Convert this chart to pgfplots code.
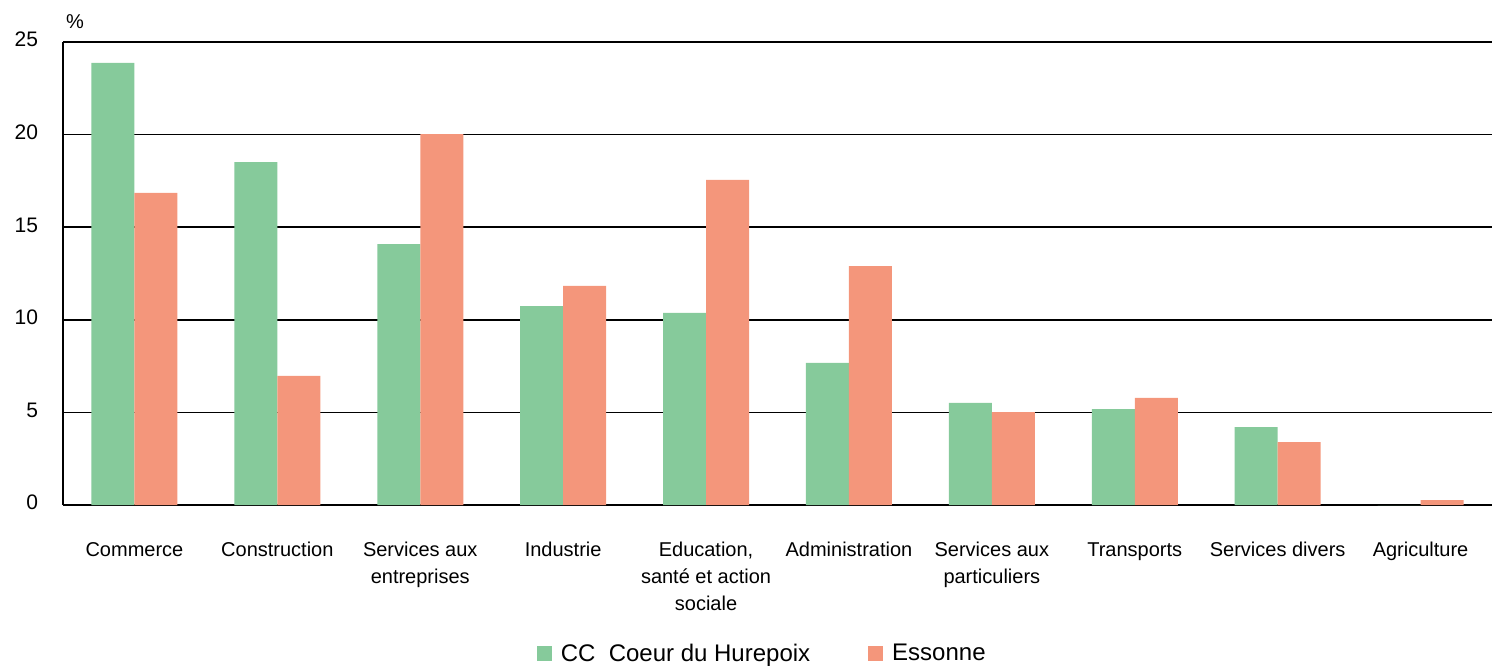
\documentclass[border=0pt]{standalone}
\usepackage{fontspec}
\setmainfont{Liberation Sans}
\usepackage{pgfplots}
\pgfplotsset{compat=1.18}
\definecolor{cgreen}{HTML}{86CA9B}
\definecolor{corange}{HTML}{F4967B}
\begin{document}
\begin{tikzpicture}
\path[use as bounding box] (-31.5pt,-80.5pt) rectangle (714.5pt,252.5pt);
\begin{axis}[
  at={(0pt,0pt)}, anchor=south west,
  scale only axis, width=714.5pt, height=231.5pt,
  ymin=0, ymax=25, ytick={0,5,10,15,20,25},
  xmin=-0.5, xmax=9.5,
  xtick={0,...,9},
  xticklabels={Commerce,Construction,Services aux\\entreprises,Industrie,{Education,\\santé et action\\sociale},Administration,Services aux\\particuliers,Transports,Services divers,Agriculture},
  xticklabel style={align=center, font=\fontsize{10}{13.5}\selectfont, anchor=north, yshift=-13pt},
  typeset ticklabels with strut,
  yticklabel style={font=\fontsize{10.5}{12}\selectfont, xshift=-9pt},
  /pgf/number format/assume math mode=true,
  major tick length=0pt,
  axis x line*=bottom, axis y line*=left,
  axis line style={black, line width=0.9pt, -},
  ymajorgrids, major grid style={black, line width=0.8pt},
  ybar=0pt, bar width=21.5pt,
  clip=false,
  legend style={at={(axis description cs:0.49,-0.322)}, anchor=center, draw=none, fill=none,
    legend columns=2, font=\fontsize{12}{14}\selectfont,
    /tikz/every odd column/.append style={column sep=2.5pt},
    /tikz/every even column/.append style={column sep=27pt}},
  legend image code/.code={\fill[#1] (0pt,-3.6pt) rectangle (7.5pt,3.9pt);},
]
\addplot[fill=cgreen, draw=none] coordinates {(0,23.87) (1,18.52) (2,14.09) (3,10.74) (4,10.37) (5,7.67) (6,5.51) (7,5.18) (8,4.21) (9,0)};
\addplot[fill=corange, draw=none] coordinates {(0,16.85) (1,6.97) (2,20.03) (3,11.83) (4,17.55) (5,12.9) (6,5.02) (7,5.78) (8,3.40) (9,0.27)};
\legend{CC\ \ Coeur du Hurepoix, Essonne}
\node[anchor=south west, font=\fontsize{10}{12}\selectfont] at (axis description cs:0,1) [xshift=-2pt, yshift=3pt] {\%};
\end{axis}
\end{tikzpicture}
\end{document}
